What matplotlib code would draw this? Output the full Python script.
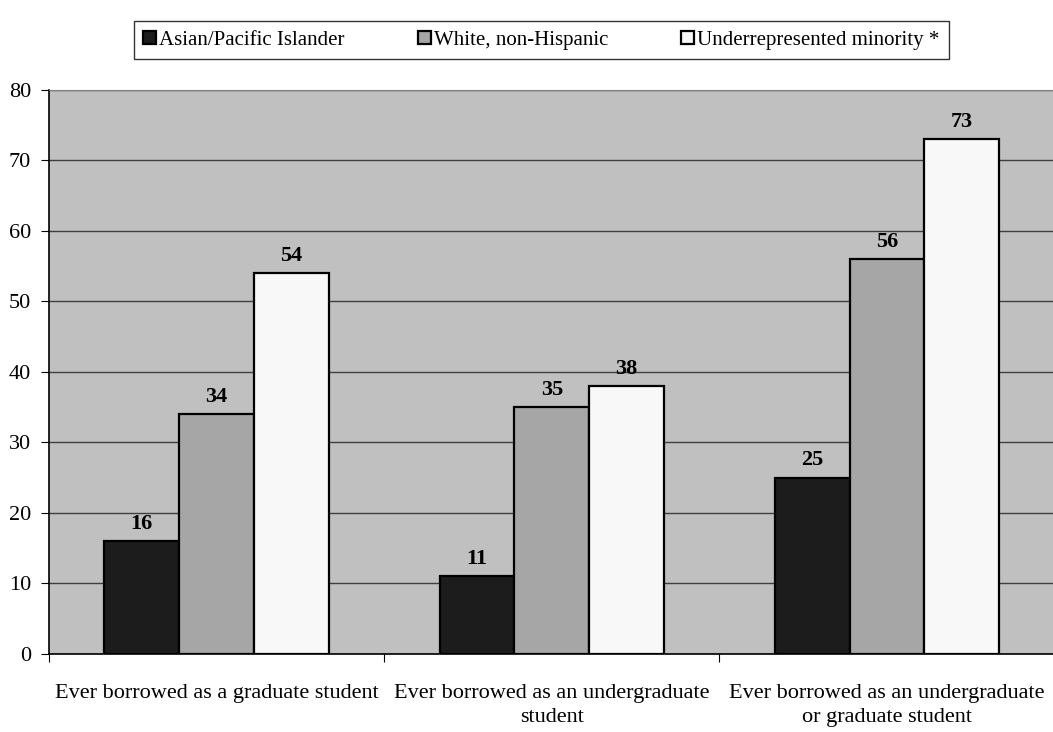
import matplotlib
matplotlib.use('Agg')
from matplotlib import pyplot as plt
import numpy as np

categories = ['Ever borrowed as a graduate student',
              'Ever borrowed as an undergraduate\nstudent',
              'Ever borrowed as an undergraduate\nor graduate student']
series_names = ['Asian/Pacific Islander', 'White, non-Hispanic',
                'Underrepresented minority *']
asian = [16, 11, 25]
white = [34, 35, 56]
minority = [54, 38, 73]
colors = ['#1c1c1c', '#a6a6a6', '#f8f8f8']

plt.rcParams['font.family'] = ['Liberation Serif', 'DejaVu Serif']

fig = plt.figure(figsize=(10.53, 7.32), dpi=100)
ax = fig.add_axes([0.0465, 0.107, 0.955, 0.77])
ax.set_facecolor('#c0c0c0')

x = np.arange(len(categories))
width = 0.223
for i, (vals, name) in enumerate(zip([asian, white, minority], series_names)):
    pos = x + (i - 1) * width
    ax.bar(pos, vals, width, color=colors[i], edgecolor='black',
           linewidth=1.6, label=name, zorder=3)
    for p, v in zip(pos, vals):
        ax.text(p, v + 1.0, str(v), ha='center', va='bottom',
                fontsize=16, fontweight='bold', zorder=4)

ax.set_xlim(-0.5, 2.5)
ax.set_ylim(0, 80)
ax.set_yticks(range(0, 81, 10))
ax.yaxis.grid(True, color='#404040', linewidth=1)
ax.set_axisbelow(True)
ax.set_xticks([-0.5, 0.5, 1.5, 2.5])
ax.set_xticks(x, minor=True)
ax.set_xticklabels([])
ax.set_xticklabels(categories, minor=True, linespacing=1.35)
ax.tick_params(axis='x', which='minor', length=0, pad=22, labelsize=16)
ax.tick_params(axis='x', which='major', length=6, direction='out', color='black')
ax.tick_params(axis='y', length=6, labelsize=16, pad=7)

ax.spines['top'].set_color('#808080')
ax.spines['right'].set_visible(False)
ax.spines['left'].set_linewidth(1.2)
ax.spines['bottom'].set_linewidth(1.2)

leg = fig.legend(loc='center', bbox_to_anchor=(0.514, 0.945), ncol=3,
                 fontsize=15, frameon=True, fancybox=False, edgecolor='black',
                 handlelength=0.62, handleheight=0.62, handletextpad=0.15,
                 columnspacing=3.5, borderpad=0.45, borderaxespad=0.0)
leg.get_frame().set_linewidth(1.0)

plt.savefig('out.png', dpi=100)
plt.close()
